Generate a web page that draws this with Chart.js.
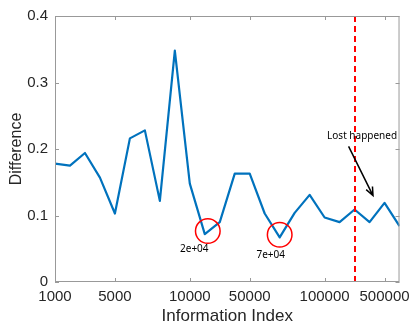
<!DOCTYPE html>
<html>
<head>
<meta charset="utf-8">
<script src="https://cdn.jsdelivr.net/npm/chart.js@4/dist/chart.umd.min.js"></script>
<style>
  html, body { margin: 0; padding: 0; background: #fff; }
  #wrap { width: 416px; height: 327px; }
</style>
</head>
<body>
<div id="wrap"><canvas id="myChart" width="416" height="327"></canvas></div>
<script>
// data
var values = [0.178, 0.175, 0.194, 0.157, 0.103, 0.216, 0.228, 0.122, 0.348, 0.148,
              0.072, 0.090, 0.163, 0.163, 0.103, 0.067, 0.104, 0.131, 0.097, 0.090,
              0.109, 0.090, 0.119, 0.084];
var tickIndex = [0, 4, 9, 13, 18, 22];
var tickLabels = ['1000', '5000', '10000', '50000', '100000', '500000'];
var yTicks = [0, 0.1, 0.2, 0.3, 0.4];
var lostIndex = 20;
// circled minima: [index, value, label, labelIndex, labelValue]
var marked = [[10.2, 0.0766, '2e+04', 9.3, 0.049], [15.0, 0.071, '7e+04', 14.4, 0.040]];
var lostText = 'Lost happened';
var lostTextPos = [20.5, 0.219];
var arrowFrom = [19.6, 0.204];
var arrowTo = [21.23, 0.130];

var points = values.map(function (v, i) { return { x: i, y: v }; });

// box, inner tick marks and annotations
var extras = {
    id: 'extras',
    afterDatasetsDraw: function (chart) {
        var c = chart.ctx, a = chart.chartArea;
        var xs = chart.scales.x, ys = chart.scales.y;
        c.save();

        // red dashed line
        var lx = Math.round(xs.getPixelForValue(lostIndex));
        c.strokeStyle = '#ff0000';
        c.lineWidth = 2;
        c.setLineDash([6, 4]);
        c.beginPath();
        c.moveTo(lx, a.top);
        c.lineTo(lx, a.bottom);
        c.stroke();
        c.setLineDash([]);

        // box
        c.strokeStyle = '#999';
        c.lineWidth = 1;
        c.strokeRect(a.left + 0.5, a.top + 0.5, a.right - a.left - 1, a.bottom - a.top - 1);

        // inner ticks
        c.beginPath();
        tickIndex.forEach(function (t) {
            var px = Math.round(xs.getPixelForValue(t)) + 0.5;
            c.moveTo(px, a.bottom); c.lineTo(px, a.bottom - 4);
            c.moveTo(px, a.top); c.lineTo(px, a.top + 4);
        });
        yTicks.forEach(function (t) {
            var py = Math.round(ys.getPixelForValue(t)) + 0.5;
            c.moveTo(a.left, py); c.lineTo(a.left + 4, py);
            c.moveTo(a.right, py); c.lineTo(a.right - 4, py);
        });
        c.stroke();

        // circles + labels
        c.font = '10px "Noto Sans", sans-serif';
        c.textAlign = 'center';
        c.textBaseline = 'middle';
        marked.forEach(function (m) {
            c.strokeStyle = '#ff0000';
            c.lineWidth = 1.5;
            c.beginPath();
            c.arc(xs.getPixelForValue(m[0]), ys.getPixelForValue(m[1]), 12.3, 0, Math.PI * 2);
            c.stroke();
            c.fillStyle = '#000';
            c.fillText(m[2], xs.getPixelForValue(m[3]), ys.getPixelForValue(m[4]));
        });

        // lost happened text + arrow
        c.fillStyle = '#000';
        c.fillText(lostText, xs.getPixelForValue(lostTextPos[0]), ys.getPixelForValue(lostTextPos[1]));
        var x1 = xs.getPixelForValue(arrowFrom[0]), y1 = ys.getPixelForValue(arrowFrom[1]);
        var x2 = xs.getPixelForValue(arrowTo[0]), y2 = ys.getPixelForValue(arrowTo[1]);
        var ang = Math.atan2(y2 - y1, x2 - x1);
        c.strokeStyle = '#000';
        c.lineWidth = 1.5;
        c.beginPath();
        c.moveTo(x1, y1); c.lineTo(x2, y2);
        c.moveTo(x2 - 9 * Math.cos(ang - 0.4), y2 - 9 * Math.sin(ang - 0.4));
        c.lineTo(x2, y2);
        c.lineTo(x2 - 9 * Math.cos(ang + 0.4), y2 - 9 * Math.sin(ang + 0.4));
        c.stroke();

        c.restore();
    }
};

var ctx = document.getElementById('myChart').getContext('2d');

new Chart(ctx, {
    type: 'line',
    data: {
        datasets: [{
            data: points,
            borderColor: '#0072BD',
            borderWidth: 2.2,
            borderJoinStyle: 'round',
            pointRadius: 0,
            tension: 0,
            fill: false
        }]
    },
    options: {
        responsive: false,
        animation: false,
        layout: { padding: { top: 14, right: 10, left: 0, bottom: 0 } },
        plugins: { legend: { display: false }, tooltip: { enabled: false } },
        scales: {
            x: {
                type: 'linear',
                min: 0,
                max: values.length - 1,
                afterBuildTicks: function (scale) {
                    scale.ticks = tickIndex.map(function (v) { return { value: v }; });
                },
                afterFit: function (scale) { scale.height = 45; },
                grid: { display: false, drawTicks: false },
                border: { display: false },
                ticks: {
                    autoSkip: false,
                    maxRotation: 0,
                    padding: 6,
                    color: '#262626',
                    font: { family: '"Liberation Sans", Arial, sans-serif', size: 15 },
                    callback: function (v) {
                        var k = tickIndex.indexOf(v);
                        return k >= 0 ? tickLabels[k] : '';
                    }
                },
                title: {
                    display: true,
                    text: 'Information Index',
                    color: '#262626',
                    padding: { top: 0, bottom: 0 },
                    font: { family: '"Liberation Sans", Arial, sans-serif', size: 17 }
                }
            },
            y: {
                min: 0,
                max: 0.4,
                afterBuildTicks: function (scale) {
                    scale.ticks = yTicks.map(function (v) { return { value: v }; });
                },
                afterFit: function (scale) { scale.width = 55; },
                grid: { display: false, drawTicks: false },
                border: { display: false },
                ticks: {
                    padding: 7,
                    color: '#262626',
                    font: { family: '"Liberation Sans", Arial, sans-serif', size: 15 }
                },
                title: {
                    display: true,
                    text: 'Difference',
                    color: '#262626',
                    padding: { top: 7, bottom: 0 },
                    font: { family: '"Liberation Sans", Arial, sans-serif', size: 16 }
                }
            }
        }
    },
    plugins: [extras]
});
</script>
</body>
</html>
